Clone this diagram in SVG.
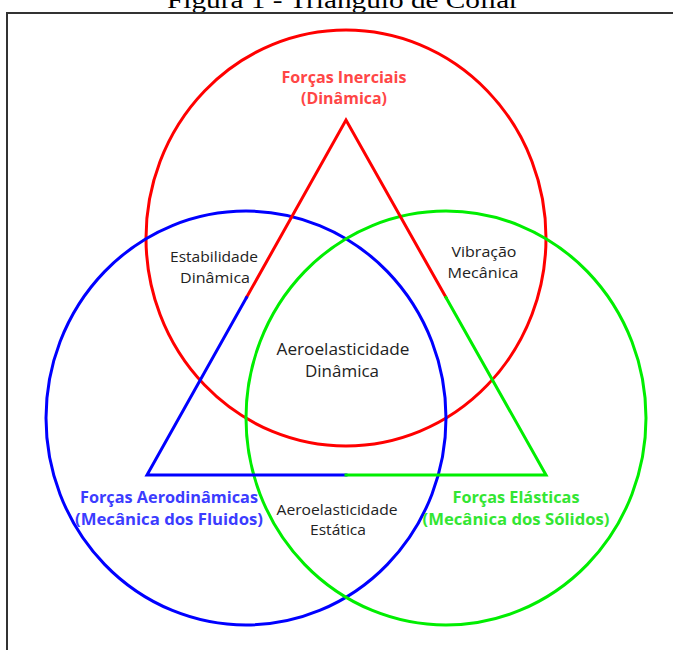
<svg xmlns="http://www.w3.org/2000/svg" width="673" height="650" viewBox="0 0 673 650">
<style>
.c{fill:none;stroke-width:3}
.t{fill:none;stroke-width:3;stroke-linejoin:miter;stroke-linecap:square}
.lbl{font-family:"Open Sans","Noto Sans",sans-serif;font-size:15px;fill:#222;text-anchor:middle}
.big{font-family:"Open Sans","Noto Sans",sans-serif;font-size:16px;font-weight:bold;text-anchor:middle}
</style>
<rect width="673" height="650" fill="#fff"/>
<text x="343" y="8" font-family="Liberation Serif,serif" font-size="24" text-anchor="middle" textLength="352" lengthAdjust="spacingAndGlyphs" fill="#000">Figura 1 - Triângulo de Collar</text>
<rect x="7" y="13" width="680" height="660" fill="none" stroke="#333" stroke-width="2"/>
<g id="circulo-inercial">
<ellipse class="c" cx="346" cy="238" rx="200" ry="208" stroke="#ff0000"/>
</g>
<g id="circulo-aerodinamico">
<ellipse class="c" cx="246" cy="418" rx="200" ry="207" stroke="#0000ff"/>
</g>
<g id="circulo-elastico">
<ellipse class="c" cx="446" cy="418" rx="200" ry="207" stroke="#00ee00"/>
</g>
<g id="connectors">
<polyline class="t" points="246.5,297.5 346,120 446,297.5" stroke="#ff0000"/>
<polyline class="t" points="246.5,297.5 147,475 346,475" stroke="#0000ff"/>
<polyline class="t" points="346,475 546,475 446,297.5" stroke="#00ee00"/>
</g>
<g id="forcas-inerciais">
<text class="big" fill="#ff4646"><tspan x="344" y="83" textLength="125" lengthAdjust="spacingAndGlyphs">Forças Inerciais</tspan><tspan x="344" y="104" textLength="86" lengthAdjust="spacingAndGlyphs">(Dinâmica)</tspan></text>
</g>
<g id="estabilidade-dinamica">
<text class="lbl"><tspan x="214" y="262" textLength="88" lengthAdjust="spacingAndGlyphs">Estabilidade</tspan><tspan x="215" y="283" textLength="70" lengthAdjust="spacingAndGlyphs">Dinâmica</tspan></text>
</g>
<g id="vibracao-mecanica">
<text class="lbl"><tspan x="484" y="257" textLength="65" lengthAdjust="spacingAndGlyphs">Vibração</tspan><tspan x="483" y="278" textLength="71" lengthAdjust="spacingAndGlyphs">Mecânica</tspan></text>
</g>
<g id="aeroelasticidade-dinamica">
<text class="lbl" style="font-size:16px"><tspan x="343" y="355" textLength="133" lengthAdjust="spacingAndGlyphs">Aeroelasticidade</tspan><tspan x="342" y="377" textLength="74" lengthAdjust="spacingAndGlyphs">Dinâmica</tspan></text>
</g>
<g id="forcas-aerodinamicas">
<text class="big" fill="#3c3cff"><tspan x="169" y="503" textLength="178" lengthAdjust="spacingAndGlyphs">Forças Aerodinâmicas</tspan><tspan x="169" y="525" textLength="188" lengthAdjust="spacingAndGlyphs">(Mecânica dos Fluidos)</tspan></text>
</g>
<g id="aeroelasticidade-estatica">
<text class="lbl"><tspan x="337" y="515" textLength="121" lengthAdjust="spacingAndGlyphs">Aeroelasticidade</tspan><tspan x="338" y="535" textLength="56" lengthAdjust="spacingAndGlyphs">Estática</tspan></text>
</g>
<g id="forcas-elasticas">
<text class="big" fill="#33e633"><tspan x="516" y="503" textLength="127" lengthAdjust="spacingAndGlyphs">Forças Elásticas</tspan><tspan x="516" y="525" textLength="187" lengthAdjust="spacingAndGlyphs">(Mecânica dos Sólidos)</tspan></text>
</g>
</svg>
